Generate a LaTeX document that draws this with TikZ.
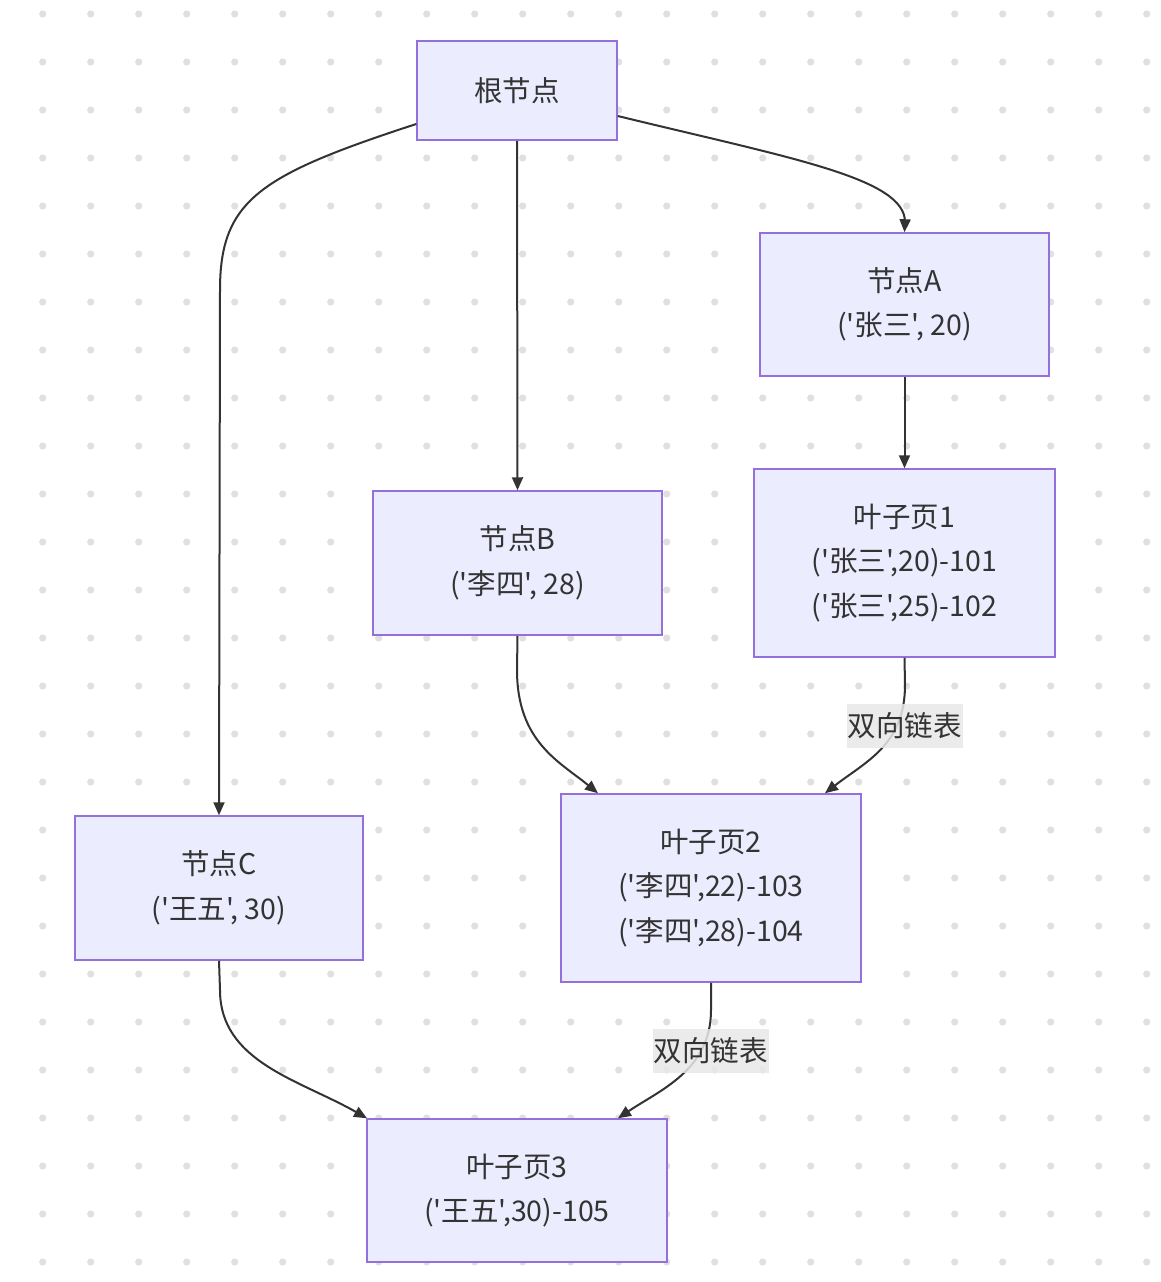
\documentclass[tikz,border=0pt]{standalone}
\usepackage{fontspec}
\setmainfont{Noto Sans CJK SC}[Ligatures=TeXOff]
\usetikzlibrary{arrows.meta,positioning}
\definecolor{nodefill}{HTML}{ECECFF}
\definecolor{nodeline}{HTML}{9370DB}
\definecolor{ink}{HTML}{333333}
\definecolor{griddot}{HTML}{E0E0E0}
\definecolor{labelbg}{HTML}{E8E8E8}
\tikzset{
  box/.style={draw=nodeline, fill=nodefill, line width=1.5pt, text=ink,
    align=center, inner sep=0pt, font=\fontsize{28.5}{44.5}\selectfont},
  link/.style={draw=ink, line width=2pt, -{Triangle[length=13pt,width=11pt]}},
  tag/.style={fill=labelbg, fill opacity=0.85, text opacity=1, text=ink,
    inner xsep=1pt, inner ysep=0pt, minimum height=44pt,
    font=\fontsize{28.5}{30}\selectfont}
}
\begin{document}
\begin{tikzpicture}[x=1pt,y=-1pt]
  \useasboundingbox (0,0) rectangle (1160,1282);
  \fill[white] (0,0) rectangle (1160,1282);
  % dotted canvas
  \foreach \i in {0,...,23}{
    \foreach \j in {0,...,26}{
      \fill[griddot] ({42.7+48*\i},{14+48*\j}) circle[radius=3.6];
    }
  }
  % nodes
  \node[box, minimum width=200, minimum height=99] (root) at (517,90.5) {根节点};
  \node[box, minimum width=289, minimum height=143] (na) at (904.5,304.5) {节点A\\('张三', 20)};
  \node[box, minimum width=301, minimum height=188] (leaf1) at (904.5,563) {叶子页1\\('张三',20)-101\\('张三',25)-102};
  \node[box, minimum width=289, minimum height=144] (nb) at (517.5,563) {节点B\\('李四', 28)};
  \node[box, minimum width=300, minimum height=188] (leaf2) at (711,888) {叶子页2\\('李四',22)-103\\('李四',28)-104};
  \node[box, minimum width=288, minimum height=144] (nc) at (219,888) {节点C\\('王五', 30)};
  \node[box, minimum width=300, minimum height=143] (leaf3) at (517,1190.5) {叶子页3\\('王五',30)-105};

  % connectors
  \draw[link] ([yshift=-33.5pt]root.west) .. controls (260,175) and (220,200) .. (220,290) -- (nc.north);
  \draw[link] (root.south) -- (nb.north);
  \draw[link] ([yshift=-25.5pt]root.east) .. controls (790,158) and (905,178) .. (905,222) -- (na.north);
  \draw[link] (na.south) -- (leaf1.north);
  \draw[link] (leaf1.south) -- (905,685) .. controls (905,745) and (865,762) .. ([xshift=114pt]leaf2.north);
  \draw[link] (nb.south) -- (517,670) .. controls (517,742) and (560,762) .. ([xshift=-113pt]leaf2.north);
  \draw[link] (nc.south) -- (220,990) .. controls (220,1062) and (300,1080) .. ([xshift=-150pt]leaf3.north);
  \draw[link] (leaf2.south) -- (711,1010) .. controls (711,1070) and (660,1090) .. ([xshift=101pt]leaf3.north);

  % edge labels
  \node[tag] (l1) at (904.5,726) {双向链表};
  \node[tag] (l2) at (710.5,1051) {双向链表};
\end{tikzpicture}
\end{document}
